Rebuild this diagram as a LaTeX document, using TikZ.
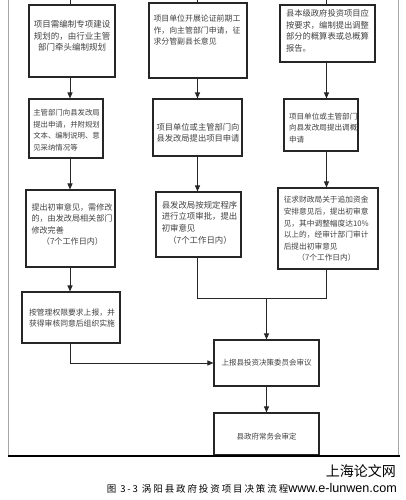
\documentclass[tikz,border=0pt]{standalone}
\usepackage{fontspec}
\setmainfont{Noto Sans CJK SC}
\newfontfamily\capfont{Liberation Sans}
\newfontfamily\capcjk[LetterSpace=20]{Noto Sans CJK SC}
\usetikzlibrary{arrows.meta}
\newcommand\fsz[1]{\fontsize{#1}{11.6}\selectfont}
\begin{document}
\begin{tikzpicture}[x=1pt,y=-1pt,
  box/.style={draw=black!85,line width=1.1pt,inner sep=0pt},
  txt/.style={inner sep=0pt,text=black!75,align=left},
  ctxt/.style={inner sep=0pt,text=black!75,align=center},
  conn/.style={draw=black!85,line width=1pt},
  arr/.style={draw=black!85,line width=1pt,-{Triangle[length=6pt,width=5pt]}},
  frame/.style={draw=black!35,line width=1.4pt}]
\useasboundingbox (0,0) rectangle (405,500);
% outer frame
\draw[frame] (8.5,0) -- (8.5,455);
\draw[frame] (398.5,0) -- (398.5,455);
% column coordinates
\coordinate (cA) at (70,0);
\coordinate (cB) at (197.5,0);
\coordinate (cC) at (326.5,0);
% row 1
\node[box,minimum width=86pt,minimum height=72pt] (A1) at (72,41) {};
\node[ctxt,font=\fsz{8.5}] (A1t) at (72,36) {项目需编制专项建设\\规划的，由行业主管\\部门牵头编制规划};
\node[box,minimum width=98pt,minimum height=75pt] (B1) at (198,40.5) {};
\node[txt,font=\fsz{7.9},text width=88pt] (B1t) at (197.5,30) {项目单位开展论证前期工\\作，向主管部门申请，征\\求分管副县长意见};
\node[box,minimum width=95pt,minimum height=57pt] (C1) at (327.5,33.5) {};
\node[txt,font=\fsz{8.3},text width=84pt] (C1t) at (328,31) {县本级政府投资项目应\\按要求，编制提出调整\\部分的概算表或总概算\\报告。};
% row 2
\node[box,minimum width=74pt,minimum height=59pt] (A2) at (66,128.5) {};
\node[txt,font=\fsz{7.4},text width=67.5pt] (A2t) at (67,130) {主管部门向县发改局\\提出申请，并附规划\\文本、编制说明、意\\见采纳情况等};
\node[box,minimum width=89pt,minimum height=57pt] (B2) at (197.5,127.5) {};
\node[txt,font=\fsz{8.3},text width=84pt] (B2t) at (198.5,133) {项目单位或主管部门向\\县发改局提出项目申请};
\node[box,minimum width=74pt,minimum height=52pt] (C2) at (321,125) {};
\node[txt,font=\fsz{7.6},text width=69pt] (C2t) at (323.5,128) {项目单位或主管部门\\向县发改局提出调概\\申请};
% row 3
\node[box,minimum width=89pt,minimum height=77pt] (A3) at (70.5,228.5) {};
\node[txt,font=\fsz{8.1},text width=82pt] (A3t) at (72.5,224.5) {提出初审意见，需修改\\的，由发改局相关部门\\修改完善\\\makebox[\linewidth][c]{（7个工作日内）}};
\node[box,minimum width=85pt,minimum height=65pt] (B3) at (198.5,224.5) {};
\node[txt,font=\fsz{8.4},text width=76.5pt] (B3t) at (200,222.5) {县发改局按规定程序\\进行立项审批，提出\\初审意见\\\makebox[\linewidth][c]{（7个工作日内）}};
\node[box,minimum width=100pt,minimum height=81pt] (C3) at (328,228.5) {};
\node[txt,font=\fsz{7.7},text width=85.5pt] (C3t) at (326.5,229) {征求财政局关于追加资金\\安排意见后，提出初审意\\见，其中调整幅度达10\%\\以上的，经审计部门审计\\后提出初审意见\\\makebox[\linewidth][c]{（7个工作日内）}};
% row 4
\node[box,minimum width=98pt,minimum height=51pt] (A4) at (71,317.5) {};
\node[ctxt,font=\fsz{7.8}] (A4t) at (72,318) {按管理权限要求上报，并\\获得审核同意后组织实施};
\node[box,minimum width=105pt,minimum height=46pt] (D1) at (266.5,363) {};
\node[ctxt,font=\fsz{7.5}] (D1t) at (266.5,363) {上报县投资决策委员会审议};
\node[box,minimum width=105pt,minimum height=42pt] (D2) at (266.5,434) {};
\node[ctxt,font=\fsz{7.5}] (D2t) at (266.5,437) {县政府常务会审定};
% top incoming lines
\draw[conn] (cA) -- (A1.north -| cA);
\draw[conn] (cB) -- (B1.north -| cB);
\draw[conn] (cC) -- (C1.north -| cC);
% arrows
\draw[arr] (A1.south -| cA) -- (A2.north -| cA);
\draw[arr] (B1.south -| cB) -- (B2.north -| cB);
\draw[arr] (C1.south -| cC) -- (C2.north -| cC);
\draw[arr] (A2.south -| cA) -- (A3.north -| cA);
\draw[arr] (B2.south -| cB) -- (B3.north -| cB);
\draw[arr] (C2.south -| cC) -- (C3.north -| cC);
\draw[arr] (A3.south -| cA) -- (A4.north -| cA);
\coordinate (J) at (266.5,298);
\draw[conn] (B3.south -| cB) -- (cB |- J) -- (cC |- J) -- (C3.south -| cC);
\draw[arr] (J) -- (D1.north);
\draw[arr] (A4.south -| cA) |- (D1.west);
\draw[arr] (D1.south) -- (D2.north);
% bottom rule
\draw[line width=2pt] (8,456) -- (399.5,456);
% caption
\node[anchor=base east,inner sep=0pt,font=\fontsize{14}{16}\selectfont] (cap1) at (396,476.5) {上海论文网};
\node[anchor=base east,inner sep=0pt] (cap2) at (397,492) {{\capcjk\fontsize{9.5}{11}\selectfont 图 3-3 涡阳县政府投资项目决策流程}{\capfont\fontsize{12.6}{14}\selectfont www.e-lunwen.com}};
\end{tikzpicture}
\end{document}
